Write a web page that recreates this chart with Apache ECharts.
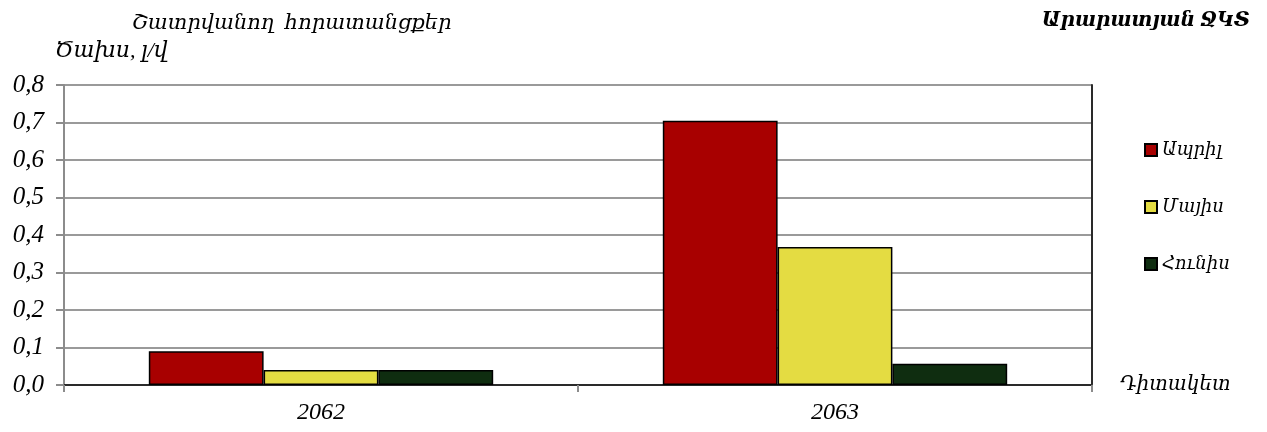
<!DOCTYPE html>
<html>
<head>
<meta charset="utf-8">
<script src="https://cdn.jsdelivr.net/npm/echarts@6/dist/echarts.min.js"></script>
<style>
  html, body { margin: 0; padding: 0; background: #fff; }
  #chart { width: 1267px; height: 432px; }
</style>
</head>
<body>
<div id="chart"></div>
<script>
// Observation points (x categories)
const categories = ['2062', '2063'];
// Monthly flow rates, l/s
const seriesNames = ['Ապրիլ', 'Մայիս', 'Հունիս'];
const aprilValues = [0.09, 0.705];
const mayValues = [0.04, 0.368];
const juneValues = [0.04, 0.057];
const seriesColors = ['#A80000', '#E4DC42', '#0F2D10'];
const yTicks = { min: 0, max: 0.8, interval: 0.1 };

const FONT = "'Liberation Serif', 'DejaVu Serif', serif";
const values = [aprilValues, mayValues, juneValues];

const chart = echarts.init(document.getElementById('chart'), null, { renderer: 'canvas' });

chart.setOption({
  animation: false,
  backgroundColor: '#ffffff',
  textStyle: { fontFamily: FONT },
  title: [
    {
      text: 'Շատրվանող  հորատանցքեր',
      left: 127, top: 8,
      textStyle: { fontFamily: FONT, fontStyle: 'italic', fontWeight: 'normal', fontSize: 21, color: '#000' }
    },
    {
      text: 'Ծախս, լ/վ',
      left: 50, top: 35,
      textStyle: { fontFamily: FONT, fontStyle: 'italic', fontWeight: 'normal', fontSize: 22, color: '#000' }
    },
    {
      text: 'Արարատյան ՋԿՏ',
      right: 12, top: 6,
      textStyle: { fontFamily: FONT, fontStyle: 'italic', fontWeight: 'bold', fontSize: 20, color: '#000' }
    }
  ],
  legend: {
    orient: 'vertical',
    left: 1139,
    top: 136,
    itemGap: 39,
    itemWidth: 12,
    itemHeight: 12,
    icon: 'rect',
    textStyle: { fontFamily: FONT, fontStyle: 'italic', fontSize: 18, color: '#000' },
    data: seriesNames
  },
  grid: { left: 64, right: 175, top: 85, bottom: 47, containLabel: false },
  xAxis: [
    {
      type: 'category',
      data: categories,
      position: 'bottom',
      name: 'Դիտակետ',
      nameLocation: 'end',
      nameGap: 28,
      nameTextStyle: { fontFamily: FONT, fontStyle: 'italic', fontSize: 20, color: '#000', verticalAlign: 'middle' },
      axisLine: { show: true, lineStyle: { color: '#8c8c8c', width: 2 } },
      axisTick: { show: true, alignWithLabel: false, length: 7, lineStyle: { color: '#8c8c8c', width: 2 } },
      axisLabel: { margin: 16, fontFamily: FONT, fontStyle: 'italic', fontSize: 24, color: '#000' },
      splitLine: { show: false }
    },
    {
      type: 'category',
      data: categories,
      position: 'top',
      axisLine: { show: true, lineStyle: { color: '#2a2a2a', width: 2 } },
      axisTick: { show: false },
      axisLabel: { show: false },
      splitLine: { show: false }
    }
  ],
  yAxis: [
    {
      type: 'value',
      min: yTicks.min,
      max: yTicks.max,
      interval: yTicks.interval,
      axisLine: { show: true, lineStyle: { color: '#8c8c8c', width: 2 } },
      axisTick: { show: true, length: 8, lineStyle: { color: '#8c8c8c', width: 2 } },
      axisLabel: {
        margin: 20,
        fontFamily: FONT, fontStyle: 'italic', fontSize: 25, color: '#000',
        formatter: v => v.toFixed(1).replace('.', ',')
      },
      splitLine: { show: true, lineStyle: { color: '#9a9a9a', width: 2 } }
    },
    {
      type: 'value',
      position: 'right',
      min: yTicks.min,
      max: yTicks.max,
      interval: yTicks.interval,
      axisLine: { show: true, lineStyle: { color: '#2a2a2a', width: 2 } },
      axisTick: { show: false },
      axisLabel: { show: false },
      splitLine: { show: false }
    }
  ],
  series: seriesNames.map((name, i) => ({
    name: name,
    type: 'bar',
    xAxisIndex: 0,
    yAxisIndex: 0,
    data: values[i],
    barGap: '0%',
    barCategoryGap: '33%',
    itemStyle: { color: seriesColors[i], borderColor: '#000', borderWidth: 1.5 }
  }))
});
</script>
</body>
</html>
